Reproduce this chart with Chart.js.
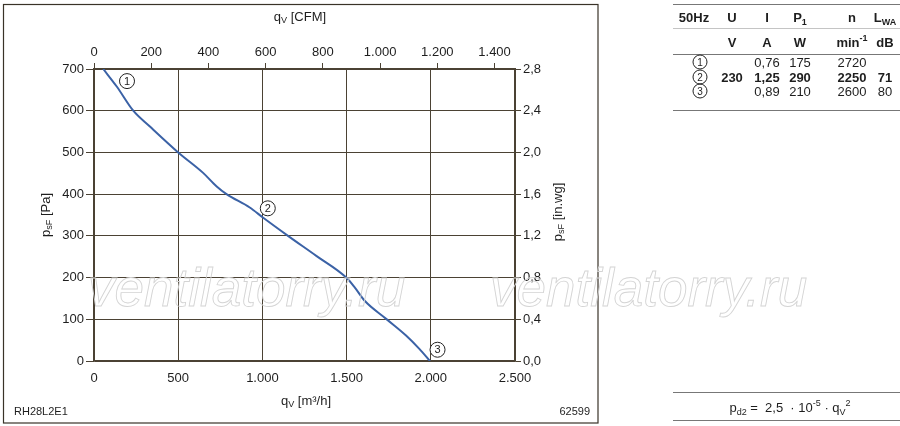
<!DOCTYPE html>
<html>
<head>
<meta charset="utf-8">
<script src="https://cdn.jsdelivr.net/npm/chart.js@4.4.1/dist/chart.umd.min.js"></script>
<style>
  html, body { margin: 0; padding: 0; background: #fff; }
  #wrap { position: relative; width: 900px; height: 426px; font-family: "Liberation Sans", Arial, sans-serif; color: #1e1e1e; }
  #wrap canvas { position: absolute; left: 0; top: 0; }
  .cell { position: absolute; transform: translate(-50%, -50%); font-size: 13px; white-space: nowrap; line-height: 1; }
  .b { font-weight: bold; }
  .hl { position: absolute; left: 673px; width: 227px; height: 0; border-top: 1.4px solid #777; }
  .circ { display: inline-block; width: 13px; height: 13px; border: 1px solid #222; border-radius: 50%; font-size: 10px; line-height: 13px; text-align: center; }
  sub, sup { font-size: 9px; line-height: 0; }
</style>
</head>
<body>
<div id="wrap">
  <canvas id="grafico" width="900" height="426"></canvas>
</div>
<script>
// datos de la curva (q_V en m3/h, p_sF en Pa)
var caudal = [55, 135, 233, 332, 500, 648, 727, 787, 925, 1003, 1152, 1320, 1498, 1547, 1606, 1735, 1853, 1932, 1995];
var presion = [700, 658, 600, 562, 500, 451, 419, 400, 368, 344, 300, 252, 200, 177, 145, 101, 61, 29, 0];

// marcas circuladas sobre la curva
var marcasNum = ["1", "2", "3"];
var marcasQ = [196, 1032, 2040];
var marcasP = [671, 366, 27];

// tabla de datos del motor
var cabecera = ["50Hz", "U", "I", "P<sub>1</sub>", "n", "L<sub>WA</sub>"];
var unidades = ["", "V", "A", "W", "min<sup>-1</sup>", "dB"];
var fila1 = ["", "0,76", "175", "2720", ""];
var fila2 = ["230", "1,25", "290", "2250", "71"];
var fila3 = ["", "0,89", "210", "2600", "80"];

var M3H_POR_CFM = 1.699;
var colorLinea = "#4b4234";
var colorTexto = "#1e1e1e";
var fuente = '"Liberation Sans", Arial, sans-serif';

function miles(v) {
    return String(v).replace(/\B(?=(\d{3})+(?!\d))/g, ".");
}

// ---- tabla en HTML ----
var wrap = document.getElementById("wrap");
var colX = [694, 732, 767, 800, 852, 885];
function celda(html, x, y, bold) {
    var d = document.createElement("div");
    d.className = "cell" + (bold ? " b" : "");
    d.style.left = x + "px";
    d.style.top = y + "px";
    d.innerHTML = html;
    wrap.appendChild(d);
}
function linea(y, color) {
    var d = document.createElement("div");
    d.className = "hl";
    d.style.top = y + "px";
    if (color) d.style.borderTopColor = color;
    wrap.appendChild(d);
}
linea(4);
linea(28, "#c4c4c4");
linea(54);
linea(110);
cabecera.forEach(function (t, i) { celda(t, colX[i], 17, true); });
unidades.forEach(function (t, i) { if (t) celda(t, colX[i], 42, true); });
[fila1, fila2, fila3].forEach(function (fila, r) {
    var y = 62 + r * 14.5;
    celda('<span class="circ">' + (r + 1) + '</span>', 700, y, false);
    fila.forEach(function (t, i) { if (t) celda(t, colX[i + 1], y, r === 1); });
});
linea(392);
linea(420);
celda('p<sub>d2</sub> =&nbsp; 2,5 &nbsp;· 10<sup>-5</sup> · q<sub>V</sub><sup>2</sup>', 790, 407, false);

// ---- texto con subindices en canvas ----
function textoSub(ctx, partes, x, y, size) {
    var ancho = 0;
    partes.forEach(function (p) {
        ctx.font = (p.sub ? size * 0.7 : size) + "px " + fuente;
        ancho += ctx.measureText(p.t).width;
    });
    var cx = x - ancho / 2;
    ctx.textAlign = "left";
    ctx.textBaseline = "middle";
    partes.forEach(function (p) {
        ctx.font = (p.sub ? size * 0.7 : size) + "px " + fuente;
        ctx.fillText(p.t, cx, p.sub ? y + size * 0.28 : y);
        cx += ctx.measureText(p.t).width;
    });
}

var extras = {
    id: "extras",
    afterDraw: function (chart) {
        var ctx = chart.ctx;
        var sx = chart.scales.x, sy = chart.scales.y;
        ctx.save();
        ctx.fillStyle = colorTexto;
        // marco
        ctx.strokeStyle = "#3a3328";
        ctx.lineWidth = 1.2;
        ctx.strokeRect(3.5, 4.5, 594.5, 418.5);
        // titulos de ejes
        textoSub(ctx, [{ t: "q" }, { t: "V", sub: true }, { t: " [CFM]" }], 300, 17, 13);
        textoSub(ctx, [{ t: "q" }, { t: "V", sub: true }, { t: " [m³/h]" }], 306, 401, 13);
        ctx.save();
        ctx.translate(46, 215);
        ctx.rotate(-Math.PI / 2);
        textoSub(ctx, [{ t: "p" }, { t: "sF", sub: true }, { t: " [Pa]" }], 0, 0, 13);
        ctx.restore();
        ctx.save();
        ctx.translate(558, 212);
        ctx.rotate(-Math.PI / 2);
        textoSub(ctx, [{ t: "p" }, { t: "sF", sub: true }, { t: " [in.wg]" }], 0, 0, 13);
        ctx.restore();
        // codigos
        ctx.font = "11px " + fuente;
        ctx.textBaseline = "middle";
        ctx.textAlign = "left";
        ctx.fillText("RH28L2E1", 14, 412);
        ctx.textAlign = "right";
        ctx.fillText("62599", 590, 412);
        // marcas circuladas
        marcasNum.forEach(function (n, i) {
            var px = sx.getPixelForValue(marcasQ[i]);
            var py = sy.getPixelForValue(marcasP[i]);
            ctx.fillStyle = "#fff";
            ctx.beginPath();
            ctx.arc(px, py, 7.5, 0, Math.PI * 2);
            ctx.fill();
            ctx.strokeStyle = "#222";
            ctx.lineWidth = 1;
            ctx.stroke();
            ctx.fillStyle = colorTexto;
            ctx.font = "11px " + fuente;
            ctx.textAlign = "center";
            ctx.fillText(n, px, py + 0.5);
        });
        // marca de agua
        ctx.font = "italic 53px " + fuente;
        ctx.textAlign = "left";
        ctx.textBaseline = "alphabetic";
        ctx.strokeStyle = "#d4d4d4";
        ctx.lineWidth = 0.9;
        ctx.strokeText("ventilatorry.ru", 88, 306);
        ctx.strokeText("ventilatorry.ru", 490, 306);
        ctx.restore();
    }
};

var tickFont = { family: fuente, size: 13 };

var ctxGraf = document.getElementById("grafico").getContext("2d");
var grafico = new Chart(ctxGraf, {
    type: "line",
    data: {
        datasets: [
            {
                data: caudal.map(function (q, i) { return { x: q, y: presion[i] }; }),
                borderColor: "#3b62a6",
                borderWidth: 2,
                pointRadius: 0,
                tension: 0.4,
                cubicInterpolationMode: "monotone",
            },
        ],
    },
    options: {
        responsive: false,
        animation: false,
        layout: { padding: { left: 0, right: 345, top: 29, bottom: 35 } },
        plugins: { legend: { display: false }, tooltip: { enabled: false } },
        scales: {
            x: {
                type: "linear",
                position: "bottom",
                min: 0,
                max: 2500,
                afterFit: function (s) { s.height = 30; },
                ticks: { stepSize: 500, padding: 10, color: colorTexto, font: tickFont, maxRotation: 0, callback: function (v) { return miles(v); } },
                grid: { color: colorLinea, lineWidth: 1, drawTicks: false },
                border: { color: colorLinea, width: 1.3 },
            },
            x2: {
                type: "linear",
                position: "top",
                min: 0,
                max: 2500 / M3H_POR_CFM,
                afterFit: function (s) { s.height = 40; },
                ticks: { stepSize: 200, includeBounds: false, padding: 3, color: colorTexto, font: tickFont, maxRotation: 0, callback: function (v) { return miles(v); } },
                grid: { drawOnChartArea: false, color: colorLinea, tickLength: 6 },
                border: { color: colorLinea, width: 1.3 },
            },
            y: {
                type: "linear",
                position: "left",
                min: 0,
                max: 700,
                afterFit: function (s) { s.width = 94; },
                ticks: { stepSize: 100, padding: 2, color: colorTexto, font: tickFont },
                grid: { color: colorLinea, lineWidth: 1, tickLength: 8 },
                border: { color: colorLinea, width: 1.3 },
            },
            y2: {
                type: "linear",
                position: "right",
                min: 0,
                max: 2.8,
                afterFit: function (s) { s.width = 40; },
                ticks: { stepSize: 0.4, padding: 2, color: colorTexto, font: tickFont, callback: function (v) { return v.toFixed(1).replace(".", ","); } },
                grid: { drawOnChartArea: false, color: colorLinea, tickLength: 6 },
                border: { color: colorLinea, width: 1.3 },
            },
        },
    },
    plugins: [extras],
});
</script>
</body>
</html>
